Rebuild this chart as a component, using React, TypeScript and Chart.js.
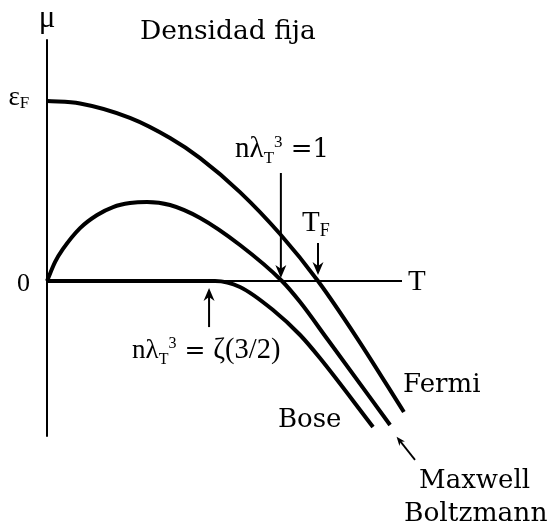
import { useEffect, useRef } from "react";
import { Chart, registerables } from "chart.js";

Chart.register(...registerables);

// ---- Data (T in units of T_F, mu in units of eps_F) ----
const fermiT = [0, 0.122, 0.306, 0.454, 0.565, 0.712, 0.86, 1.0, 1.144, 1.317];
const fermiMu = [1.0, 0.986, 0.906, 0.794, 0.683, 0.494, 0.261, 0, -0.317, -0.728];

const mbT = [0, 0.03, 0.059, 0.122, 0.185, 0.244, 0.306, 0.369, 0.454, 0.565, 0.712, 0.867, 0.934, 1.037, 1.266];
const mbMu = [0, 0.106, 0.178, 0.294, 0.367, 0.411, 0.433, 0.439, 0.422, 0.35, 0.2, 0, -0.117, -0.328, -0.8];

const boseT = [0, 0.62, 0.712, 0.834, 0.934, 1.007, 1.203];
const boseMu = [0, 0, -0.033, -0.161, -0.3, -0.428, -0.811];

// axes of the diagram
const muAxisT = [0, 0];
const muAxisMu = [1.339, -0.861];
const tAxisT = [0, 1.31];
const tAxisMu = [0, 0];

// vertical arrows: T position, from mu, to mu (tip)
const vArrowT = [0.863, 1.0, 0.598];
const vArrowFrom = [0.6, 0.211, -0.256];
const vArrowTo = [0.017, 0.033, -0.039];

// Maxwell-Boltzmann pointer arrow
const mbArrowT = [1.358, 1.29];
const mbArrowMu = [-0.994, -0.865];

const TIMES = '"Liberation Serif", "Times New Roman", serif';
const DEJAVU = '"DejaVu Serif", serif';

type Run = { t: string; size: number; dy?: number; font?: string };
type Label = { x: number; y: number; align?: "left" | "center" | "right"; runs: Run[] };

const labels: Label[] = [
  { x: 0, y: 1.41, align: "center", runs: [{ t: "μ", size: 31 }] },
  { x: 0.343, y: 1.344, runs: [{ t: "Densidad fija", size: 26.5, font: DEJAVU }] },
  { x: -0.142, y: 0.978, runs: [{ t: "ε", size: 27 }, { t: "F", size: 17, dy: 3 }] },
  { x: -0.063, y: -0.056, align: "right", runs: [{ t: "0", size: 26 }] },
  { x: 1.332, y: -0.05, runs: [{ t: "T", size: 29 }] },
  { x: 0.941, y: 0.278, runs: [{ t: "T", size: 29 }, { t: "F", size: 18, dy: 5 }] },
  {
    x: 0.694,
    y: 0.689,
    runs: [
      { t: "nλ", size: 29 },
      { t: "T", size: 17, dy: 6 },
      { t: "3", size: 17, dy: -10 },
      { t: " =1", size: 26, font: DEJAVU },
    ],
  },
  {
    x: 0.314,
    y: -0.428,
    runs: [
      { t: "nλ", size: 27 },
      { t: "T", size: 16, dy: 6 },
      { t: "3", size: 16, dy: -10 },
      { t: " = ", size: 25, font: DEJAVU },
      { t: "ζ(3/2)", size: 28.5 },
    ],
  },
  { x: 1.314, y: -0.617, runs: [{ t: "Fermi", size: 26, font: DEJAVU }] },
  { x: 0.852, y: -0.811, runs: [{ t: "Bose", size: 26, font: DEJAVU }] },
  { x: 1.373, y: -1.15, runs: [{ t: "Maxwell", size: 26, font: DEJAVU }] },
  { x: 1.317, y: -1.333, runs: [{ t: "Boltzmann", size: 26.5, font: DEJAVU }] },
];

const pts = (xs: number[], ys: number[]) => xs.map((x, i) => ({ x, y: ys[i] }));

function drawArrow(
  ctx: CanvasRenderingContext2D,
  x1: number,
  y1: number,
  x2: number,
  y2: number,
  head: number,
  halfW: number,
  lw: number
) {
  const ang = Math.atan2(y2 - y1, x2 - x1);
  const c = Math.cos(ang);
  const s = Math.sin(ang);
  ctx.lineWidth = lw;
  ctx.beginPath();
  ctx.moveTo(x1, y1);
  ctx.lineTo(x2 - head * 0.6 * c, y2 - head * 0.6 * s);
  ctx.stroke();
  const bx = x2 - head * c;
  const by = y2 - head * s;
  const nx = x2 - head * 0.7 * c;
  const ny = y2 - head * 0.7 * s;
  ctx.beginPath();
  ctx.moveTo(x2, y2);
  ctx.lineTo(bx - halfW * s, by + halfW * c);
  ctx.lineTo(nx, ny);
  ctx.lineTo(bx + halfW * s, by - halfW * c);
  ctx.closePath();
  ctx.fill();
}

const annotPlugin = {
  id: "annot",
  afterDraw(chart: any) {
    const ctx: CanvasRenderingContext2D = chart.ctx;
    const xs = chart.scales.x;
    const ys = chart.scales.y;
    ctx.save();
    ctx.fillStyle = "#000";
    ctx.strokeStyle = "#000";
    ctx.lineCap = "butt";
    vArrowT.forEach((t, i) => {
      const px = xs.getPixelForValue(t);
      drawArrow(ctx, px, ys.getPixelForValue(vArrowFrom[i]), px, ys.getPixelForValue(vArrowTo[i]), 13, 5.5, 2);
    });
    drawArrow(
      ctx,
      xs.getPixelForValue(mbArrowT[0]),
      ys.getPixelForValue(mbArrowMu[0]),
      xs.getPixelForValue(mbArrowT[1]),
      ys.getPixelForValue(mbArrowMu[1]),
      9,
      3.5,
      1.8
    );
    ctx.textBaseline = "alphabetic";
    ctx.textAlign = "left";
    labels.forEach((lab) => {
      let total = 0;
      const widths = lab.runs.map((r) => {
        ctx.font = `${r.size}px ${r.font || TIMES}`;
        const w = ctx.measureText(r.t).width;
        total += w;
        return w;
      });
      let x = xs.getPixelForValue(lab.x);
      const y = ys.getPixelForValue(lab.y);
      if (lab.align === "center") x -= total / 2;
      else if (lab.align === "right") x -= total;
      lab.runs.forEach((r, i) => {
        ctx.font = `${r.size}px ${r.font || TIMES}`;
        ctx.fillText(r.t, x, y + (r.dy || 0));
        x += widths[i];
      });
    });
    ctx.restore();
  },
};

export default function App() {
  const ref = useRef<HTMLCanvasElement>(null);
  useEffect(() => {
    const curve = (data: { x: number; y: number }[], lw: number, smooth: boolean) => ({
      data,
      showLine: true,
      borderColor: "#000",
      backgroundColor: "#000",
      borderWidth: lw,
      pointRadius: 0,
      pointHoverRadius: 0,
      fill: false,
      clip: false as const,
      tension: smooth ? 0.4 : 0,
      cubicInterpolationMode: smooth ? ("monotone" as const) : ("default" as const),
      borderCapStyle: "butt" as const,
      borderJoinStyle: "round" as const,
    });
    const chart = new Chart(ref.current!, {
      type: "scatter",
      data: {
        datasets: [
          curve(pts(muAxisT, muAxisMu), 2, false),
          curve(pts(tAxisT, tAxisMu), 2, false),
          curve(pts(fermiT, fermiMu), 4, true),
          curve(pts(mbT, mbMu), 4, true),
          curve(pts(boseT, boseMu), 4, true),
        ],
      },
      options: {
        animation: false,
        responsive: false,
        events: [],
        layout: {
          padding: {
            left: 47,
            right: 551 - 47 - 1.85 * 271,
            top: 281 - 1.4 * 180,
            bottom: 523 - (281 + 1.3 * 180),
          },
        },
        scales: {
          x: { type: "linear", min: 0, max: 1.85, display: false },
          y: { type: "linear", min: -1.3, max: 1.4, display: false },
        },
        plugins: {
          legend: { display: false },
          tooltip: { enabled: false },
        },
      },
      plugins: [annotPlugin],
    });
    return () => chart.destroy();
  }, []);
  return (
    <div style={{ position: "absolute", left: 0, top: 0, width: 551, height: 523, background: "#fff" }}>
      <canvas ref={ref} width={551} height={523} style={{ display: "block", width: 551, height: 523 }} />
    </div>
  );
}
